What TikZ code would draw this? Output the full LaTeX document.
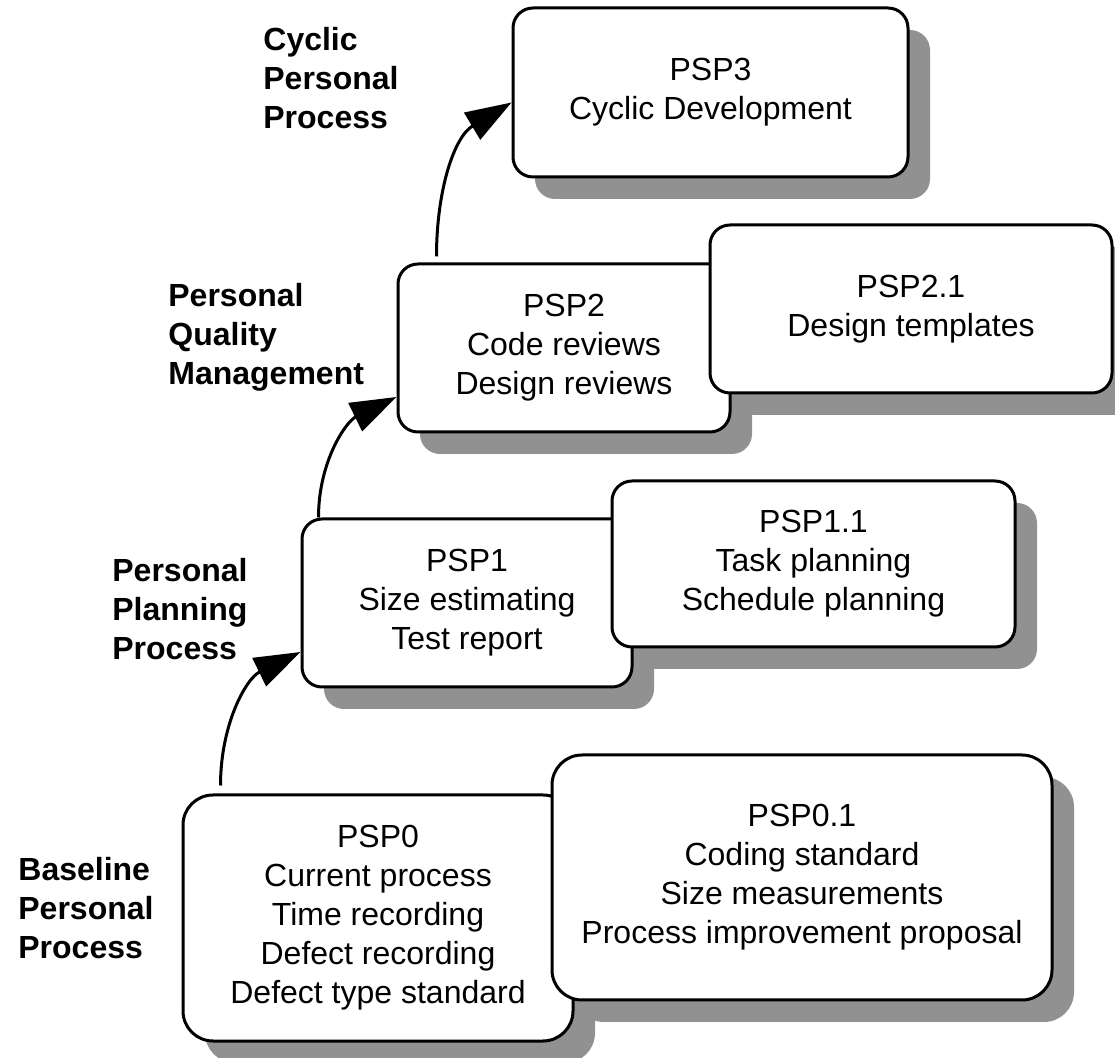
\documentclass[tikz,border=0pt]{standalone}
\usepackage{fontspec}
\setmainfont{Liberation Sans}
\usepackage{tikz}
\usetikzlibrary{positioning}
\usetikzlibrary{shadows}
\usetikzlibrary{arrows.meta}
\definecolor{shadowgray}{RGB}{145,145,145}
\tikzset{
	stage/.style={draw, line width=1.5pt, fill=white, rounded corners=10pt, align=center, inner sep=0pt,
		font=\fontsize{16pt}{19.5pt}\selectfont,
		drop shadow={shadow xshift=11pt, shadow yshift=-11pt, fill=shadowgray, opacity=1}},
	bigstage/.style={stage, rounded corners=15pt},
	level/.style={anchor=north west, align=left, inner sep=0pt, font=\fontsize{16pt}{19.5pt}\selectfont\bfseries},
	climb/.style={line width=1.5pt, -{Triangle[length=23pt,width=15.5pt]}}
}
\begin{document}
\begin{tikzpicture}[x=0.5pt,y=-0.5pt]
	\useasboundingbox (0,0) rectangle (1115,1058);
	% Baseline %
	\node [bigstage, minimum width=195pt, minimum height=123pt] (psp0) at (378,918) {PSP0\\Current process\\Time recording\\Defect recording\\Defect type standard};
	\node [bigstage, minimum width=250pt, minimum height=122.5pt] (psp01) at (802,877.5) {PSP0.1\\Coding standard\\Size measurements\\Process improvement proposal};
	% Planning %
	\node [stage, minimum width=165pt, minimum height=84pt] (psp1) at (467,603) {PSP1\\Size estimating\\Test report};
	\node [stage, minimum width=201.5pt, minimum height=83pt] (psp11) at (813.5,564) {PSP1.1\\Task planning\\Schedule planning};
	% Quality %
	\node [stage, minimum width=166pt, minimum height=84pt] (psp2) at (564,348) {PSP2\\Code reviews\\Design reviews};
	\node [stage, minimum width=201pt, minimum height=84pt] (psp21) at (911,309) {PSP2.1\\Design templates};
	% Cyclic %
	\node [stage, minimum width=197.5pt, minimum height=84.5pt] (psp3) at (710.5,92.5) {PSP3\\Cyclic Development};
	% Levels %
	\node [level] (cyclic) at (263,27) {Cyclic\\Personal\\Process};
	\node [level] (quality) at (168,283) {Personal\\Quality\\Management};
	\node [level] (planning) at (112,558) {Personal\\Planning\\Process};
	\node [level] (baseline) at (18,857) {Baseline\\Personal\\Process};
	% Steps %
	\draw [climb] ([xshift=19.5pt,yshift=4pt]psp0.north west) to [out=90,in=206] ([yshift=-24.5pt]psp1.west);
	\draw [climb] ([xshift=9pt]psp1.north west) to [out=90,in=206] ([yshift=-24.5pt]psp2.west);
	\draw [climb] ([xshift=20pt,yshift=3pt]psp2.north west) to [out=90,in=211] ([yshift=-5pt]psp3.west);
\end{tikzpicture}
\end{document}
